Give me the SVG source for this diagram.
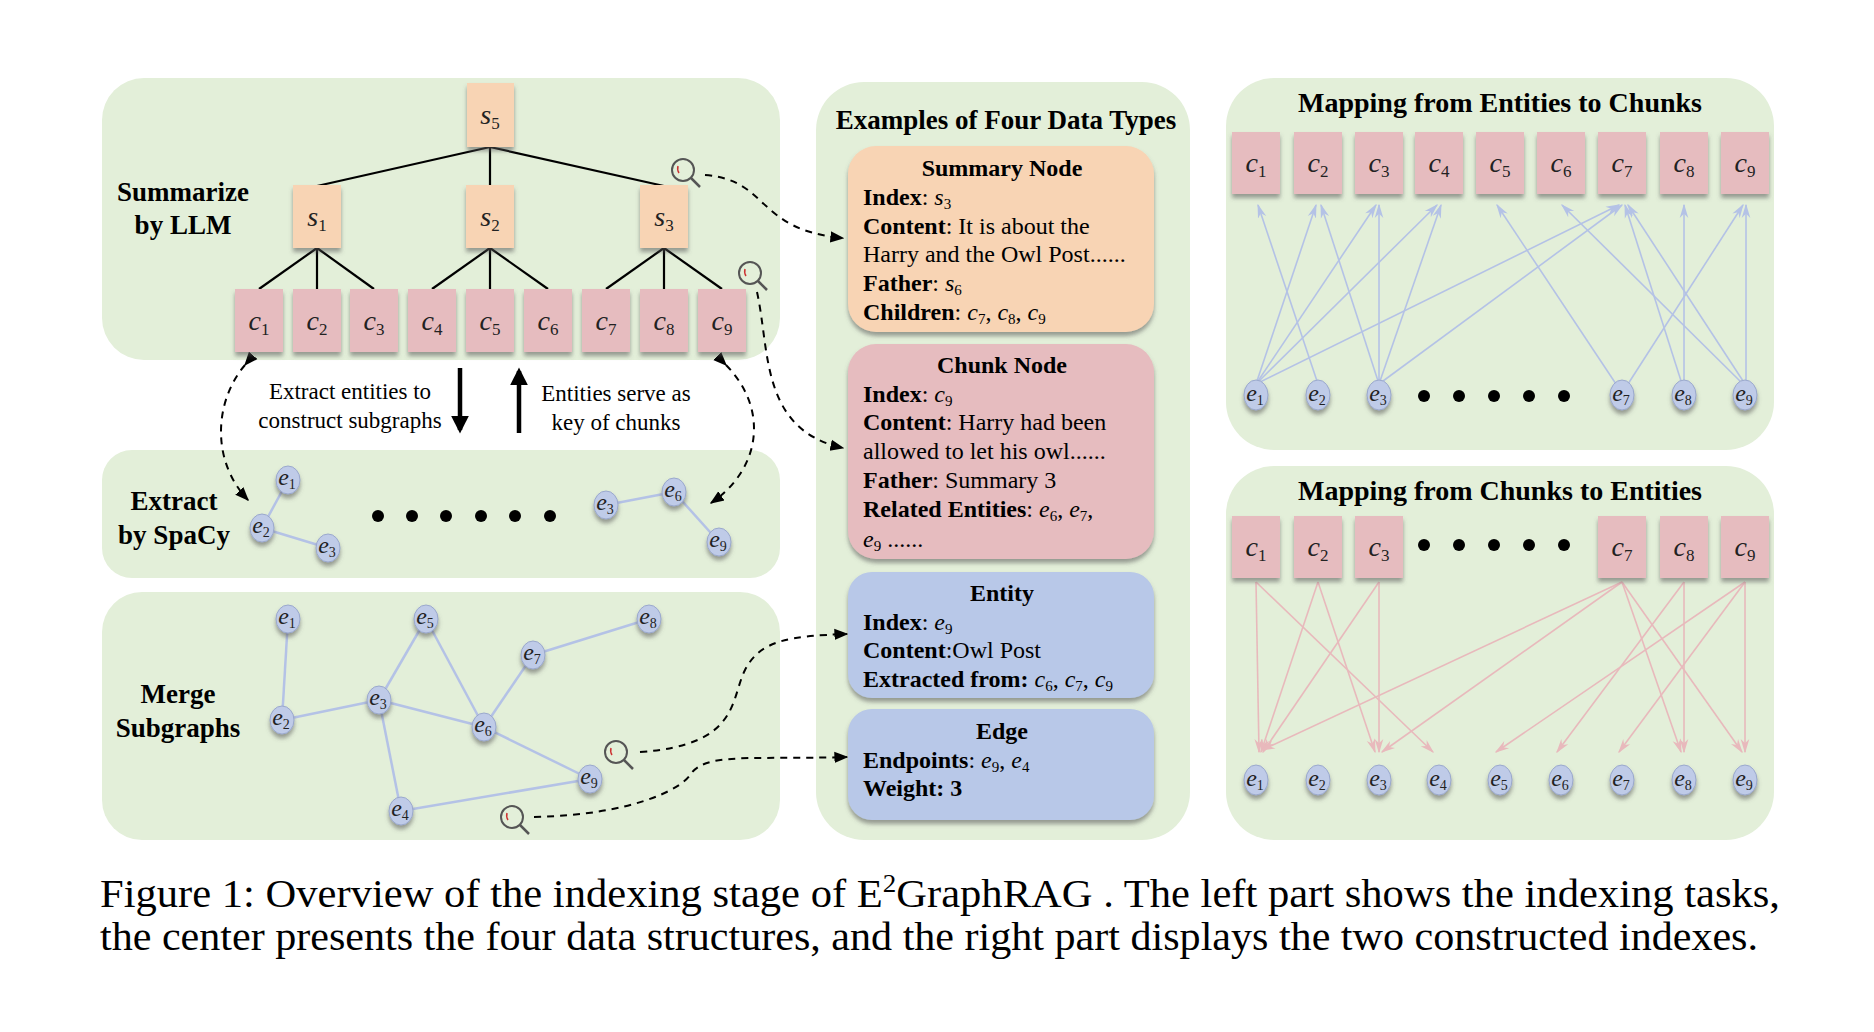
<svg xmlns="http://www.w3.org/2000/svg" width="1874" height="1032" viewBox="0 0 1874 1032">
<defs>
<filter id="sh" x="-30%" y="-30%" width="160%" height="160%"><feDropShadow dx="0" dy="4" stdDeviation="2" flood-color="#555" flood-opacity="0.55"/></filter>
<marker id="ab" viewBox="0 0 10 10" refX="9" refY="5" markerWidth="7" markerHeight="7" orient="auto"><path d="M0,1 L10,5 L0,9 Z" fill="#000"/></marker>
<marker id="abl" viewBox="0 0 10 10" refX="9" refY="5" markerWidth="9" markerHeight="9" orient="auto"><path d="M0,2 L10,5 L0,8 L3,5 Z" fill="#b4c2e6"/></marker>
<marker id="apk" viewBox="0 0 10 10" refX="9" refY="5" markerWidth="9" markerHeight="9" orient="auto"><path d="M0,2 L10,5 L0,8 L3,5 Z" fill="#e8b9bc"/></marker>
<marker id="abig" viewBox="0 0 10 10" refX="8" refY="5" markerWidth="4" markerHeight="4" orient="auto"><path d="M0,0 L10,5 L0,10 Z" fill="#000"/></marker>
<g id="mag"><circle cx="0" cy="0" r="11" fill="none" stroke="#555" stroke-width="2"/><line x1="8" y1="8" x2="17" y2="17" stroke="#555" stroke-width="2.5"/><path d="M-5,-4 Q-6,0 -4,3" stroke="#c33" stroke-width="1.5" fill="none"/></g>
</defs>
<style>
.pan{fill:#e3efd9}
.sum{fill:#f8d4b4;filter:url(#sh)}
.chk{fill:#e6bcbf;filter:url(#sh)}
.ent{fill:#bfcbe8;stroke:#9aa8cc;stroke-width:1;filter:url(#sh)}
.t{font-family:"Liberation Serif","Times New Roman",serif;fill:#000}
.b{font-weight:bold}
.m{font-family:"Liberation Serif",serif;font-style:italic;fill:#222;font-size:28px;text-anchor:middle}
.ms{font-family:"Liberation Serif",serif;font-style:italic;fill:#222;font-size:24px;text-anchor:middle}
.tree{stroke:#000;stroke-width:2.2}
.ge{stroke:#b4c2e6;stroke-width:2.5}
.bl{stroke:#b4c2e6;stroke-width:1.6;marker-end:url(#abl);fill:none}
.pk{stroke:#e8b9bc;stroke-width:1.6;marker-end:url(#apk);fill:none}
.dash{stroke:#000;stroke-width:2;stroke-dasharray:7,6;fill:none}
</style>
<rect class="pan" x="102" y="78" width="678" height="282" rx="42"/>
<rect class="pan" x="102" y="450" width="678" height="128" rx="30"/>
<rect class="pan" x="102" y="592" width="678" height="248" rx="40"/>
<rect class="pan" x="816" y="82" width="374" height="758" rx="48"/>
<rect class="pan" x="1226" y="78" width="548" height="372" rx="48"/>
<rect class="pan" x="1226" y="466" width="548" height="374" rx="48"/>

<g id="connectors">
<g class="tree">
<line x1="490" y1="147" x2="317" y2="186"/><line x1="490" y1="147" x2="490" y2="186"/><line x1="490" y1="147" x2="664" y2="186"/>
<line x1="317" y1="248" x2="259" y2="289"/><line x1="317" y1="248" x2="317" y2="289"/><line x1="317" y1="248" x2="374" y2="289"/>
<line x1="490" y1="248" x2="432" y2="289"/><line x1="490" y1="248" x2="490" y2="289"/><line x1="490" y1="248" x2="548" y2="289"/>
<line x1="664" y1="248" x2="606" y2="289"/><line x1="664" y1="248" x2="664" y2="289"/><line x1="664" y1="248" x2="722" y2="289"/>
</g>
<g class="ge">
<line x1="288" y1="480" x2="262" y2="528"/><line x1="262" y1="528" x2="328" y2="548"/>
<line x1="606" y1="505" x2="674" y2="492"/><line x1="674" y1="492" x2="719" y2="542"/>
<line x1="288" y1="619" x2="282" y2="720"/><line x1="282" y1="720" x2="379" y2="700"/><line x1="379" y1="700" x2="426" y2="619"/>
<line x1="426" y1="619" x2="484" y2="727"/><line x1="379" y1="700" x2="484" y2="727"/><line x1="484" y1="727" x2="533" y2="655"/>
<line x1="533" y1="655" x2="649" y2="619"/><line x1="484" y1="727" x2="590" y2="779"/><line x1="379" y1="700" x2="401" y2="811"/>
<line x1="401" y1="811" x2="590" y2="779"/>
</g>
<line x1="460" y1="368" x2="460" y2="430" stroke="#000" stroke-width="4.5" marker-end="url(#abig)"/>
<line x1="519" y1="433" x2="519" y2="371" stroke="#000" stroke-width="4.5" marker-end="url(#abig)"/>
<path class="dash" d="M705,175 C770,180 755,230 843,238" marker-end="url(#ab)"/>
<path class="dash" d="M757,292 C770,350 760,430 843,448" marker-end="url(#ab)"/>
<path class="dash" d="M245,365 C215,400 210,460 248,500" marker-start="url(#ab)" marker-end="url(#ab)"/>
<path class="dash" d="M726,365 C770,410 760,470 711,503" marker-start="url(#ab)" marker-end="url(#ab)"/>
<path class="dash" d="M640,752 C740,745 730,700 745,670 C760,640 790,636 847,634" marker-end="url(#ab)"/>
<path class="dash" d="M534,817 C630,815 680,790 690,775 C705,752 750,760 847,757" marker-end="url(#ab)"/>
<g>
<line class="bl" x1="1256" y1="384" x2="1316" y2="205"/><line class="bl" x1="1256" y1="384" x2="1376" y2="205"/>
<line class="bl" x1="1256" y1="384" x2="1437" y2="205"/><line class="bl" x1="1256" y1="384" x2="1619" y2="205"/>
<line class="bl" x1="1318" y1="384" x2="1258" y2="205"/>
<line class="bl" x1="1379" y1="384" x2="1321" y2="205"/><line class="bl" x1="1379" y1="384" x2="1379" y2="205"/>
<line class="bl" x1="1379" y1="384" x2="1441" y2="205"/><line class="bl" x1="1379" y1="384" x2="1622" y2="205"/>
<line class="bl" x1="1616" y1="384" x2="1497" y2="205"/><line class="bl" x1="1628" y1="384" x2="1743" y2="205"/>
<line class="bl" x1="1682" y1="384" x2="1625" y2="205"/><line class="bl" x1="1684" y1="384" x2="1684" y2="205"/>
<line class="bl" x1="1743" y1="384" x2="1562" y2="205"/><line class="bl" x1="1745" y1="384" x2="1628" y2="205"/>
<line class="bl" x1="1746" y1="384" x2="1746" y2="205"/>
</g>
<g>
<line class="pk" x1="1256" y1="582" x2="1259" y2="752"/><line class="pk" x1="1256" y1="582" x2="1433" y2="752"/>
<line class="pk" x1="1318" y1="582" x2="1261" y2="752"/><line class="pk" x1="1318" y1="582" x2="1375" y2="752"/>
<line class="pk" x1="1379" y1="582" x2="1263" y2="752"/><line class="pk" x1="1379" y1="582" x2="1379" y2="752"/>
<line class="pk" x1="1622" y1="582" x2="1262" y2="750"/><line class="pk" x1="1622" y1="582" x2="1382" y2="752"/>
<line class="pk" x1="1622" y1="582" x2="1681" y2="752"/><line class="pk" x1="1622" y1="582" x2="1742" y2="752"/>
<line class="pk" x1="1684" y1="582" x2="1557" y2="752"/><line class="pk" x1="1684" y1="582" x2="1684" y2="752"/>
<line class="pk" x1="1745" y1="582" x2="1496" y2="752"/><line class="pk" x1="1745" y1="582" x2="1619" y2="752"/>
<line class="pk" x1="1745" y1="582" x2="1745" y2="752"/>
</g>
</g>

<use href="#mag" x="683" y="170"/>
<use href="#mag" x="750" y="273"/>
<use href="#mag" x="616" y="752"/>
<use href="#mag" x="512" y="817"/>

<g class="t b" font-size="27" text-anchor="middle">
<text x="183" y="201">Summarize</text><text x="183" y="234">by LLM</text>
<text x="174" y="510">Extract</text><text x="174" y="544">by SpaCy</text>
<text x="178" y="703">Merge</text><text x="178" y="737">Subgraphs</text>
</g>
<g class="t" font-size="23" text-anchor="middle">
<text x="350" y="399">Extract entities to</text><text x="350" y="428">construct subgraphs</text>
<text x="616" y="401">Entities serve as</text><text x="616" y="430">key of chunks</text>
</g>

<g id="s5"><rect class="sum" x="467" y="83" width="47" height="64"/><text class="m" x="490" y="124">s<tspan font-size="17" dy="5" font-style="normal">5</tspan></text></g>
<g id="s1"><rect class="sum" x="293" y="185" width="48" height="63"/><text class="m" x="317" y="226">s<tspan font-size="17" dy="5" font-style="normal">1</tspan></text></g>
<g id="s2"><rect class="sum" x="466" y="185" width="48" height="63"/><text class="m" x="490" y="226">s<tspan font-size="17" dy="5" font-style="normal">2</tspan></text></g>
<g id="s3"><rect class="sum" x="640" y="185" width="48" height="63"/><text class="m" x="664" y="226">s<tspan font-size="17" dy="5" font-style="normal">3</tspan></text></g>
<g id="lc1"><rect class="chk" x="235" y="289" width="48" height="63"/><text class="m" x="259" y="330">c<tspan font-size="17" dy="5" font-style="normal">1</tspan></text></g>
<g id="lc2"><rect class="chk" x="293" y="289" width="48" height="63"/><text class="m" x="317" y="330">c<tspan font-size="17" dy="5" font-style="normal">2</tspan></text></g>
<g id="lc3"><rect class="chk" x="350" y="289" width="48" height="63"/><text class="m" x="374" y="330">c<tspan font-size="17" dy="5" font-style="normal">3</tspan></text></g>
<g id="lc4"><rect class="chk" x="408" y="289" width="48" height="63"/><text class="m" x="432" y="330">c<tspan font-size="17" dy="5" font-style="normal">4</tspan></text></g>
<g id="lc5"><rect class="chk" x="466" y="289" width="48" height="63"/><text class="m" x="490" y="330">c<tspan font-size="17" dy="5" font-style="normal">5</tspan></text></g>
<g id="lc6"><rect class="chk" x="524" y="289" width="48" height="63"/><text class="m" x="548" y="330">c<tspan font-size="17" dy="5" font-style="normal">6</tspan></text></g>
<g id="lc7"><rect class="chk" x="582" y="289" width="48" height="63"/><text class="m" x="606" y="330">c<tspan font-size="17" dy="5" font-style="normal">7</tspan></text></g>
<g id="lc8"><rect class="chk" x="640" y="289" width="48" height="63"/><text class="m" x="664" y="330">c<tspan font-size="17" dy="5" font-style="normal">8</tspan></text></g>
<g id="lc9"><rect class="chk" x="698" y="289" width="48" height="63"/><text class="m" x="722" y="330">c<tspan font-size="17" dy="5" font-style="normal">9</tspan></text></g>

<g id="x-e1"><ellipse class="ent" cx="288" cy="480" rx="12" ry="14"/><text class="ms" x="287" y="485">e<tspan font-size="14" dy="4" font-style="normal">1</tspan></text></g>
<g id="x-e2"><ellipse class="ent" cx="262" cy="528" rx="12" ry="14"/><text class="ms" x="261" y="533">e<tspan font-size="14" dy="4" font-style="normal">2</tspan></text></g>
<g id="x-e3"><ellipse class="ent" cx="328" cy="548" rx="12" ry="14"/><text class="ms" x="327" y="553">e<tspan font-size="14" dy="4" font-style="normal">3</tspan></text></g>
<g id="x-e3b"><ellipse class="ent" cx="606" cy="505" rx="12" ry="14"/><text class="ms" x="605" y="510">e<tspan font-size="14" dy="4" font-style="normal">3</tspan></text></g>
<g id="x-e6"><ellipse class="ent" cx="674" cy="492" rx="12" ry="14"/><text class="ms" x="673" y="497">e<tspan font-size="14" dy="4" font-style="normal">6</tspan></text></g>
<g id="x-e9"><ellipse class="ent" cx="719" cy="542" rx="12" ry="14"/><text class="ms" x="718" y="547">e<tspan font-size="14" dy="4" font-style="normal">9</tspan></text></g>
<g fill="#000"><circle cx="378" cy="516" r="6"/><circle cx="412" cy="516" r="6"/><circle cx="446" cy="516" r="6"/><circle cx="481" cy="516" r="6"/><circle cx="515" cy="516" r="6"/><circle cx="550" cy="516" r="6"/></g>

<g id="m-e1"><ellipse class="ent" cx="288" cy="619" rx="12" ry="14"/><text class="ms" x="287" y="624">e<tspan font-size="14" dy="4" font-style="normal">1</tspan></text></g>
<g id="m-e5"><ellipse class="ent" cx="426" cy="619" rx="12" ry="14"/><text class="ms" x="425" y="624">e<tspan font-size="14" dy="4" font-style="normal">5</tspan></text></g>
<g id="m-e8"><ellipse class="ent" cx="649" cy="619" rx="12" ry="14"/><text class="ms" x="648" y="624">e<tspan font-size="14" dy="4" font-style="normal">8</tspan></text></g>
<g id="m-e7"><ellipse class="ent" cx="533" cy="655" rx="12" ry="14"/><text class="ms" x="532" y="660">e<tspan font-size="14" dy="4" font-style="normal">7</tspan></text></g>
<g id="m-e3"><ellipse class="ent" cx="379" cy="700" rx="12" ry="14"/><text class="ms" x="378" y="705">e<tspan font-size="14" dy="4" font-style="normal">3</tspan></text></g>
<g id="m-e2"><ellipse class="ent" cx="282" cy="720" rx="12" ry="14"/><text class="ms" x="281" y="725">e<tspan font-size="14" dy="4" font-style="normal">2</tspan></text></g>
<g id="m-e6"><ellipse class="ent" cx="484" cy="727" rx="12" ry="14"/><text class="ms" x="483" y="732">e<tspan font-size="14" dy="4" font-style="normal">6</tspan></text></g>
<g id="m-e9"><ellipse class="ent" cx="590" cy="779" rx="12" ry="14"/><text class="ms" x="589" y="784">e<tspan font-size="14" dy="4" font-style="normal">9</tspan></text></g>
<g id="m-e4"><ellipse class="ent" cx="401" cy="811" rx="12" ry="14"/><text class="ms" x="400" y="816">e<tspan font-size="14" dy="4" font-style="normal">4</tspan></text></g>

<text class="t b" x="1006" y="129" font-size="27" text-anchor="middle">Examples of Four Data Types</text>
<g id="summary-node">
<rect x="848" y="146" width="306" height="186" rx="28" fill="#f8d4b4" filter="url(#sh)"/>
<g class="t" font-size="24">
<text class="b" x="1002" y="176" text-anchor="middle">Summary Node</text>
<text x="863" y="205"><tspan class="b">Index</tspan>: <tspan font-style="italic">s</tspan><tspan font-size="15" dy="4">3</tspan></text>
<text x="863" y="234"><tspan class="b">Content</tspan>: It is about the</text>
<text x="863" y="262">Harry and the Owl Post......</text>
<text x="863" y="291"><tspan class="b">Father</tspan>: <tspan font-style="italic">s</tspan><tspan font-size="15" dy="4">6</tspan></text>
<text x="863" y="320"><tspan class="b">Children</tspan>: <tspan font-style="italic">c</tspan><tspan font-size="15" dy="4">7</tspan><tspan dy="-4">,  </tspan><tspan font-style="italic">c</tspan><tspan font-size="15" dy="4">8</tspan><tspan dy="-4">, </tspan><tspan font-style="italic">c</tspan><tspan font-size="15" dy="4">9</tspan></text>
</g></g>
<g id="chunk-node">
<rect x="848" y="344" width="306" height="215" rx="28" fill="#e6bcbf" filter="url(#sh)"/>
<g class="t" font-size="24">
<text class="b" x="1002" y="373" text-anchor="middle">Chunk Node</text>
<text x="863" y="402"><tspan class="b">Index</tspan>: <tspan font-style="italic">c</tspan><tspan font-size="15" dy="4">9</tspan></text>
<text x="863" y="430"><tspan class="b">Content</tspan>: Harry had been</text>
<text x="863" y="459">allowed to let his owl......</text>
<text x="863" y="488"><tspan class="b">Father</tspan>: Summary 3</text>
<text x="863" y="517"><tspan class="b">Related Entities</tspan>: <tspan font-style="italic">e</tspan><tspan font-size="15" dy="4">6</tspan><tspan dy="-4">, </tspan><tspan font-style="italic">e</tspan><tspan font-size="15" dy="4">7</tspan><tspan dy="-4">,</tspan></text>
<text x="863" y="547"><tspan font-style="italic">e</tspan><tspan font-size="15" dy="4">9</tspan><tspan dy="-4"> ......</tspan></text>
</g></g>
<g id="entity-node">
<rect x="848" y="572" width="306" height="126" rx="24" fill="#b8c8e8" filter="url(#sh)"/>
<g class="t" font-size="24">
<text class="b" x="1002" y="601" text-anchor="middle">Entity</text>
<text x="863" y="630"><tspan class="b">Index</tspan>: <tspan font-style="italic">e</tspan><tspan font-size="15" dy="4">9</tspan></text>
<text x="863" y="658"><tspan class="b">Content</tspan>:Owl Post</text>
<text x="863" y="687"><tspan class="b">Extracted from: </tspan><tspan font-style="italic">c</tspan><tspan font-size="15" dy="4">6</tspan><tspan dy="-4">, </tspan><tspan font-style="italic">c</tspan><tspan font-size="15" dy="4">7</tspan><tspan dy="-4">, </tspan><tspan font-style="italic">c</tspan><tspan font-size="15" dy="4">9</tspan></text>
</g></g>
<g id="edge-node">
<rect x="848" y="709" width="306" height="111" rx="24" fill="#b8c8e8" filter="url(#sh)"/>
<g class="t" font-size="24">
<text class="b" x="1002" y="739" text-anchor="middle">Edge</text>
<text x="863" y="768"><tspan class="b">Endpoints</tspan>: <tspan font-style="italic">e</tspan><tspan font-size="15" dy="4">9</tspan><tspan dy="-4">, </tspan><tspan font-style="italic">e</tspan><tspan font-size="15" dy="4">4</tspan></text>
<text x="863" y="796" class="b">Weight: 3</text>
</g></g>

<text class="t b" x="1500" y="112" font-size="28" text-anchor="middle">Mapping from Entities to Chunks</text>
<g id="rt-c1"><rect class="chk" x="1232" y="132" width="48" height="62"/><text class="m" x="1256" y="172">c<tspan font-size="17" dy="5" font-style="normal">1</tspan></text></g>
<g id="rt-c2"><rect class="chk" x="1294" y="132" width="48" height="62"/><text class="m" x="1318" y="172">c<tspan font-size="17" dy="5" font-style="normal">2</tspan></text></g>
<g id="rt-c3"><rect class="chk" x="1355" y="132" width="48" height="62"/><text class="m" x="1379" y="172">c<tspan font-size="17" dy="5" font-style="normal">3</tspan></text></g>
<g id="rt-c4"><rect class="chk" x="1415" y="132" width="48" height="62"/><text class="m" x="1439" y="172">c<tspan font-size="17" dy="5" font-style="normal">4</tspan></text></g>
<g id="rt-c5"><rect class="chk" x="1476" y="132" width="48" height="62"/><text class="m" x="1500" y="172">c<tspan font-size="17" dy="5" font-style="normal">5</tspan></text></g>
<g id="rt-c6"><rect class="chk" x="1537" y="132" width="48" height="62"/><text class="m" x="1561" y="172">c<tspan font-size="17" dy="5" font-style="normal">6</tspan></text></g>
<g id="rt-c7"><rect class="chk" x="1598" y="132" width="48" height="62"/><text class="m" x="1622" y="172">c<tspan font-size="17" dy="5" font-style="normal">7</tspan></text></g>
<g id="rt-c8"><rect class="chk" x="1660" y="132" width="48" height="62"/><text class="m" x="1684" y="172">c<tspan font-size="17" dy="5" font-style="normal">8</tspan></text></g>
<g id="rt-c9"><rect class="chk" x="1721" y="132" width="48" height="62"/><text class="m" x="1745" y="172">c<tspan font-size="17" dy="5" font-style="normal">9</tspan></text></g>
<g id="rt-e1"><ellipse class="ent" cx="1256" cy="395" rx="12" ry="15"/><text class="ms" x="1255" y="401">e<tspan font-size="14" dy="4" font-style="normal">1</tspan></text></g>
<g id="rt-e2"><ellipse class="ent" cx="1318" cy="395" rx="12" ry="15"/><text class="ms" x="1317" y="401">e<tspan font-size="14" dy="4" font-style="normal">2</tspan></text></g>
<g id="rt-e3"><ellipse class="ent" cx="1379" cy="395" rx="12" ry="15"/><text class="ms" x="1378" y="401">e<tspan font-size="14" dy="4" font-style="normal">3</tspan></text></g>
<g id="rt-e7"><ellipse class="ent" cx="1622" cy="395" rx="12" ry="15"/><text class="ms" x="1621" y="401">e<tspan font-size="14" dy="4" font-style="normal">7</tspan></text></g>
<g id="rt-e8"><ellipse class="ent" cx="1684" cy="395" rx="12" ry="15"/><text class="ms" x="1683" y="401">e<tspan font-size="14" dy="4" font-style="normal">8</tspan></text></g>
<g id="rt-e9"><ellipse class="ent" cx="1745" cy="395" rx="12" ry="15"/><text class="ms" x="1744" y="401">e<tspan font-size="14" dy="4" font-style="normal">9</tspan></text></g>
<g fill="#000"><circle cx="1424" cy="396" r="6"/><circle cx="1459" cy="396" r="6"/><circle cx="1494" cy="396" r="6"/><circle cx="1529" cy="396" r="6"/><circle cx="1564" cy="396" r="6"/></g>

<text class="t b" x="1500" y="500" font-size="28" text-anchor="middle">Mapping from Chunks to Entities</text>
<g id="rb-c1"><rect class="chk" x="1232" y="516" width="48" height="62"/><text class="m" x="1256" y="556">c<tspan font-size="17" dy="5" font-style="normal">1</tspan></text></g>
<g id="rb-c2"><rect class="chk" x="1294" y="516" width="48" height="62"/><text class="m" x="1318" y="556">c<tspan font-size="17" dy="5" font-style="normal">2</tspan></text></g>
<g id="rb-c3"><rect class="chk" x="1355" y="516" width="48" height="62"/><text class="m" x="1379" y="556">c<tspan font-size="17" dy="5" font-style="normal">3</tspan></text></g>
<g id="rb-c7"><rect class="chk" x="1598" y="516" width="48" height="62"/><text class="m" x="1622" y="556">c<tspan font-size="17" dy="5" font-style="normal">7</tspan></text></g>
<g id="rb-c8"><rect class="chk" x="1660" y="516" width="48" height="62"/><text class="m" x="1684" y="556">c<tspan font-size="17" dy="5" font-style="normal">8</tspan></text></g>
<g id="rb-c9"><rect class="chk" x="1721" y="516" width="48" height="62"/><text class="m" x="1745" y="556">c<tspan font-size="17" dy="5" font-style="normal">9</tspan></text></g>
<g fill="#000"><circle cx="1424" cy="545" r="6"/><circle cx="1459" cy="545" r="6"/><circle cx="1494" cy="545" r="6"/><circle cx="1529" cy="545" r="6"/><circle cx="1564" cy="545" r="6"/></g>
<g id="rb-e1"><ellipse class="ent" cx="1256" cy="780" rx="12" ry="15"/><text class="ms" x="1255" y="786">e<tspan font-size="14" dy="4" font-style="normal">1</tspan></text></g>
<g id="rb-e2"><ellipse class="ent" cx="1318" cy="780" rx="12" ry="15"/><text class="ms" x="1317" y="786">e<tspan font-size="14" dy="4" font-style="normal">2</tspan></text></g>
<g id="rb-e3"><ellipse class="ent" cx="1379" cy="780" rx="12" ry="15"/><text class="ms" x="1378" y="786">e<tspan font-size="14" dy="4" font-style="normal">3</tspan></text></g>
<g id="rb-e4"><ellipse class="ent" cx="1439" cy="780" rx="12" ry="15"/><text class="ms" x="1438" y="786">e<tspan font-size="14" dy="4" font-style="normal">4</tspan></text></g>
<g id="rb-e5"><ellipse class="ent" cx="1500" cy="780" rx="12" ry="15"/><text class="ms" x="1499" y="786">e<tspan font-size="14" dy="4" font-style="normal">5</tspan></text></g>
<g id="rb-e6"><ellipse class="ent" cx="1561" cy="780" rx="12" ry="15"/><text class="ms" x="1560" y="786">e<tspan font-size="14" dy="4" font-style="normal">6</tspan></text></g>
<g id="rb-e7"><ellipse class="ent" cx="1622" cy="780" rx="12" ry="15"/><text class="ms" x="1621" y="786">e<tspan font-size="14" dy="4" font-style="normal">7</tspan></text></g>
<g id="rb-e8"><ellipse class="ent" cx="1684" cy="780" rx="12" ry="15"/><text class="ms" x="1683" y="786">e<tspan font-size="14" dy="4" font-style="normal">8</tspan></text></g>
<g id="rb-e9"><ellipse class="ent" cx="1745" cy="780" rx="12" ry="15"/><text class="ms" x="1744" y="786">e<tspan font-size="14" dy="4" font-style="normal">9</tspan></text></g>

<g class="t" font-size="41">
<text x="100" y="907" textLength="1680" lengthAdjust="spacingAndGlyphs">Figure 1: Overview of the indexing stage of E<tspan font-size="26" dy="-15">2</tspan><tspan dy="15">GraphRAG . The left part shows the indexing tasks,</tspan></text>
<text x="100" y="950" textLength="1658" lengthAdjust="spacingAndGlyphs">the center presents the four data structures, and the right part displays the two constructed indexes.</text>
</g>
</svg>
